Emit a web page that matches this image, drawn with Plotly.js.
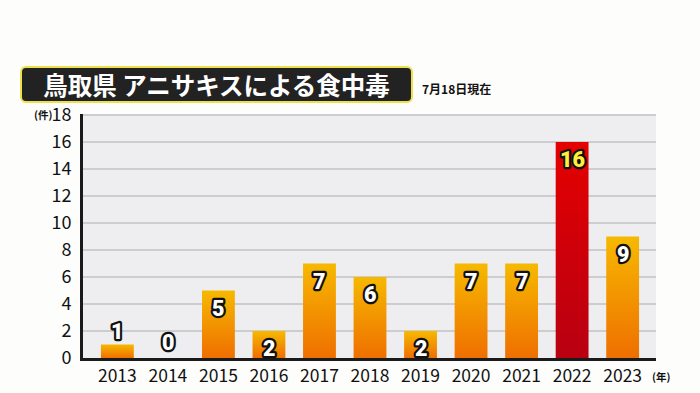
<!DOCTYPE html>
<html><head><meta charset="utf-8">
<script src="https://cdn.plot.ly/plotly-3.0.1.min.js"></script>
<style>html,body{margin:0;padding:0;background:#fdfdfb;}#chart{width:700px;height:393px;}</style>
</head><body><div id="chart"></div>
<script>
const years = ['2013','2014','2015','2016','2017','2018','2019','2020','2021','2022','2023'];
const cases = [1,0,5,2,7,6,2,7,7,16,9];
const highlightYear = '2022';
const yTicks = [0,2,4,6,8,10,12,14,16,18];
const titleText = '鳥取県 アニサキスによる食中毒';
const asOfText = '7月18日現在';
const yUnit = '(件)';
const xUnit = '(年)';

const jp = '"Noto Sans CJK JP", "Noto Sans", sans-serif';
const isHi = years.map(y => y === highlightYear);

const bars = {
  type: 'bar', x: years, y: cases, width: 0.65,
  marker: {color: isHi.map(h => h ? '#d80008' : '#f39a00'), line: {width: 0}},
  hoverinfo: 'skip'
};

const dataLabels = years.map((yr, i) => {
  const v = cases[i];
  const inside = v >= 2;
  return {
    xref: 'x', yref: 'y', x: i, y: v, showarrow: false,
    text: String(v), xanchor: 'center',
    yanchor: inside ? 'top' : 'bottom', yshift: inside ? -3 : (v === 0 ? 1 : -1),
    font: {family: 'Roboto, "Noto Sans", sans-serif', size: 21.5, weight: 900,
           color: isHi[i] ? '#ffef3a' : '#ffffff'}
  };
});

const layout = {
  width: 700, height: 393,
  margin: {l: 83, r: 44, t: 114, b: 35},
  paper_bgcolor: '#fdfdfb', plot_bgcolor: '#eeeef0',
  showlegend: false, bargap: 0.35,
  font: {family: jp, color: '#111'},
  xaxis: {type: 'category', range: [-0.68, 10.66], showgrid: false, zeroline: false,
          showline: true, linewidth: 3, linecolor: '#1a1a1a', ticks: '',
          tickfont: {size: 17.5, color: '#111', family: jp}, ticklabelstandoff: 0, fixedrange: true},
  yaxis: {range: [0, 18.08], tickvals: yTicks, showgrid: true, gridcolor: '#cdcdd0', gridwidth: 1.5,
          zeroline: false, showline: true, linewidth: 3, linecolor: '#1a1a1a', ticks: '',
          tickfont: {size: 18, color: '#111', family: jp}, ticklabelstandoff: 5, fixedrange: true},
  annotations: [
    {xref: 'paper', yref: 'paper', x: (216.5-83)/573, y: (358-84.5)/244, xanchor: 'center', yanchor: 'middle',
     text: '<b>' + titleText + '</b>', showarrow: false, width: 389, height: 33,
     bgcolor: '#222222', bordercolor: '#eee04a', borderwidth: 2, borderpad: 0,
     font: {size: 24.5, color: '#ffffff', family: jp}},
    {xref: 'paper', yref: 'paper', x: (420-83)/573, y: (358-89)/244, xanchor: 'left', yanchor: 'middle',
     text: '<b>' + asOfText + '</b>', showarrow: false, font: {size: 12, color: '#111', family: jp}},
    {xref: 'paper', yref: 'paper', x: (54-83)/573, y: (358-115)/244, xanchor: 'right', yanchor: 'middle',
     text: '<b>' + yUnit + '</b>', showarrow: false, font: {size: 10.5, color: '#111', family: jp}},
    {xref: 'paper', yref: 'paper', x: (661-83)/573, y: (358-376)/244, xanchor: 'center', yanchor: 'middle',
     text: '<b>' + xUnit + '</b>', showarrow: false, font: {size: 10.5, color: '#111', family: jp}}
  ].concat(dataLabels)
};

Plotly.newPlot('chart', [bars], layout, {staticPlot: true}).then(gd => {
  const svg = gd.querySelector('svg.main-svg');
  const ns = 'http://www.w3.org/2000/svg';
  let defs = svg.querySelector('defs');
  if (!defs) { defs = document.createElementNS(ns, 'defs'); svg.insertBefore(defs, svg.firstChild); }
  function grad(id, top, bottom) {
    const g = document.createElementNS(ns, 'linearGradient');
    g.setAttribute('id', id); g.setAttribute('x1', '0'); g.setAttribute('y1', '0');
    g.setAttribute('x2', '0'); g.setAttribute('y2', '1');
    [[0, top], [1, bottom]].forEach(([o, c]) => {
      const s = document.createElementNS(ns, 'stop');
      s.setAttribute('offset', o); s.setAttribute('stop-color', c); g.appendChild(s);
    });
    defs.appendChild(g);
  }
  grad('gOrange', '#f6b900', '#ef6f00');
  grad('gRed', '#e40000', '#b80012');
  gd.querySelectorAll('.barlayer .point path').forEach((p, i) => {
    p.style.fill = isHi[i] ? 'url(#gRed)' : 'url(#gOrange)';
  });
  const anns = gd.querySelectorAll('.annotation');
  anns.forEach((a, i) => {
    if (i >= 4) {
      const t = a.querySelector('text');
      if (t) {
        t.style.stroke = '#111';
        t.style.strokeWidth = '4.5px';
        t.style.paintOrder = 'stroke';
        t.style.strokeLinejoin = 'round';
      }
    }
  });
  const titleBg = anns[0] && anns[0].querySelector('rect.bg');
  if (titleBg) { titleBg.setAttribute('rx', 5); titleBg.setAttribute('ry', 5); }
});
</script></body></html>
